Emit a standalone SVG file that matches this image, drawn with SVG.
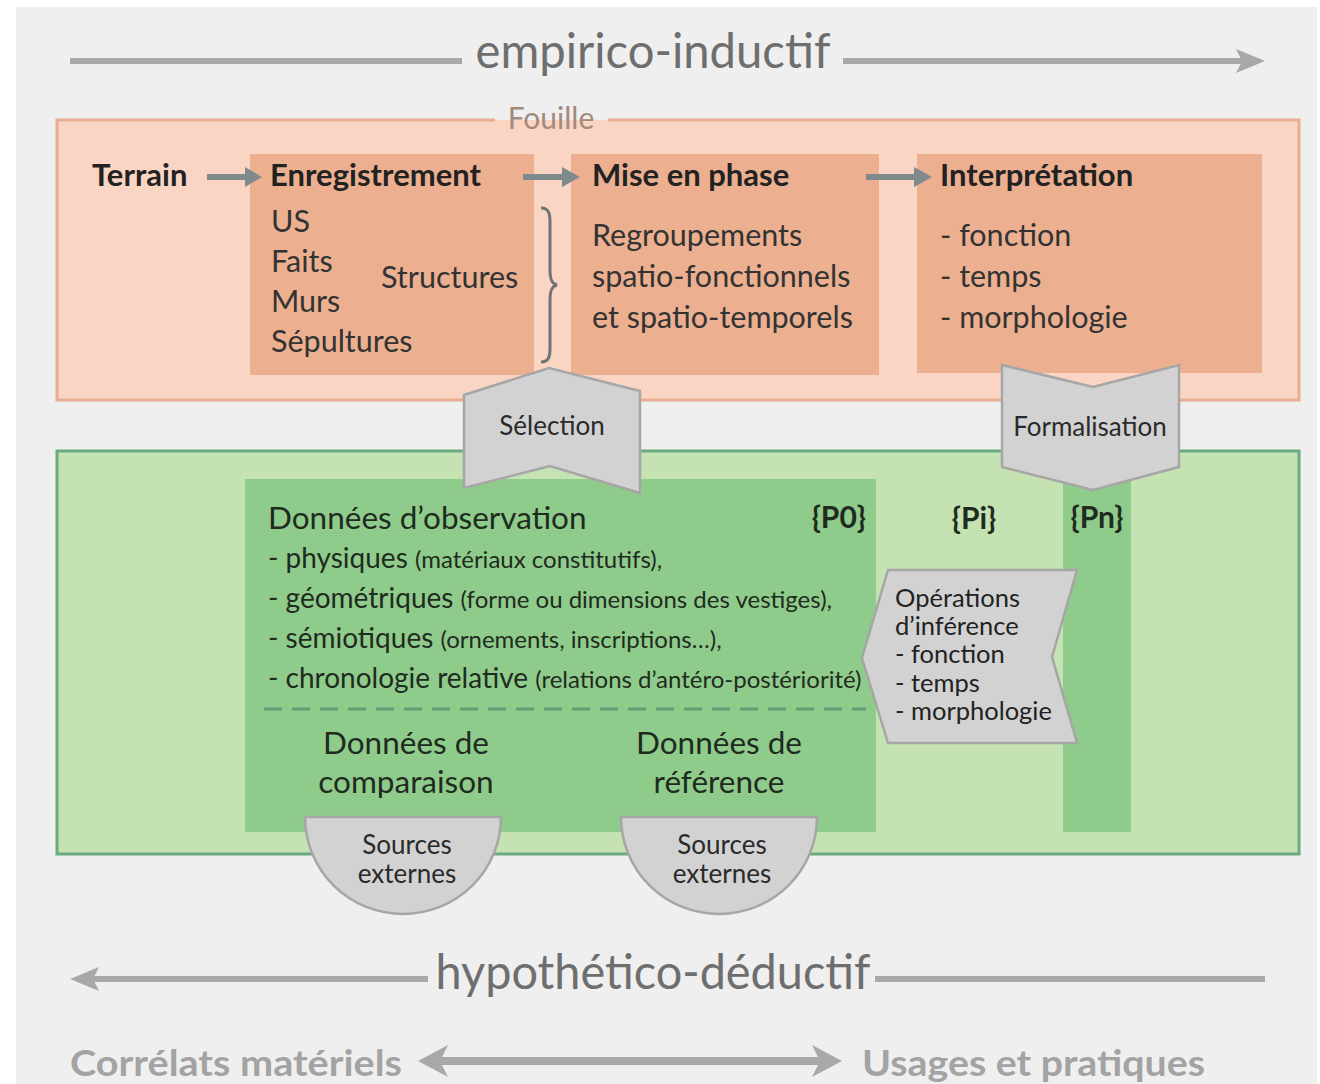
<svg xmlns="http://www.w3.org/2000/svg" width="1320" height="1084" viewBox="0 0 1320 1084">
  <style>
    text { font-family: Lato, "Open Sans", "Liberation Sans", sans-serif; }
    .axis { font-size: 48px; fill: #6e6e6e; }
    .axisline { stroke: #a8a8a8; stroke-width: 6; fill: none; }
    .head { font-size: 31px; font-weight: bold; fill: #222; }
    .body { font-size: 30.5px; fill: #333; }
    .gtext { font-size: 28px; fill: #1f2b1f; }
    .gsmall { font-size: 24px; }
    .gbig { font-size: 31.5px; fill: #1f2b1f; }
    .pset { font-size: 30px; font-weight: bold; fill: #1f2b1f; }
    .tag { fill: #d2d2d2; stroke: #a6a6a6; stroke-width: 2.5; }
    .tagtext { font-size: 26px; fill: #2a2a2a; text-anchor: middle; }
    .optext { font-size: 25.5px; fill: #222; }
    .flow { fill: #7f8a8c; }
    .pole { font-size: 36px; font-weight: bold; fill: #a3a3a3; }
  </style>

  <!-- page -->
  <rect x="16" y="7" width="1301" height="1077" fill="#efefef"/>

  <!-- empirico-inductif axis -->
  <g id="axis-top">
    <line class="axisline" x1="70" y1="61" x2="462" y2="61"/>
    <line class="axisline" x1="843" y1="61" x2="1242" y2="61"/>
    <path d="M1265,61 L1236,49 L1242,61 L1236,73 Z" fill="#a8a8a8"/>
    <text class="axis" x="653" y="68" text-anchor="middle" textLength="355" lengthAdjust="spacingAndGlyphs">empirico-inductif</text>
  </g>

  <!-- Fouille -->
  <g id="fouille">
    <rect x="57" y="120" width="1242" height="280" fill="#fbd5c3"/>
    <path d="M495,120 H57 V400 H1299 V120 H608" fill="none" stroke="#e8ad90" stroke-width="3"/>
    <text x="551" y="129" text-anchor="middle" font-size="30" fill="#a38a7c">Fouille</text>
  </g>

  <g id="terrain">
    <text class="head" x="92" y="186">Terrain</text>
  </g>

  <g id="enregistrement">
    <rect x="250" y="154" width="284" height="221" fill="#ecb090"/>
    <text class="head" x="270" y="186">Enregistrement</text>
    <text class="body" x="271" y="232">US</text>
    <text class="body" x="271" y="272">Faits</text>
    <text class="body" x="271" y="312">Murs</text>
    <text class="body" x="271" y="352">Sépultures</text>
    <text class="body" x="381" y="288">Structures</text>
  </g>

  <g id="mise-en-phase">
    <rect x="571" y="154" width="308" height="221" fill="#ecb090"/>
    <text class="head" x="592" y="186">Mise en phase</text>
    <text class="body" x="592" y="246">Regroupements</text>
    <text class="body" x="592" y="287">spatio-fonctionnels</text>
    <text class="body" x="592" y="328">et spatio-temporels</text>
  </g>

  <g id="interpretation">
    <rect x="917" y="154" width="345" height="219" fill="#ecb090"/>
    <text class="head" x="940" y="186">Interprétation</text>
    <text class="body" x="940" y="246">- fonction</text>
    <text class="body" x="940" y="287">- temps</text>
    <text class="body" x="940" y="328">- morphologie</text>
  </g>

  <!-- Observation frame -->
  <g id="observation">
    <rect x="57" y="451" width="1242" height="403" fill="#c5e2b3" stroke="#6aaa7f" stroke-width="3"/>
  </g>

  <g id="donnees">
    <rect x="245" y="479" width="631" height="353" fill="#8fcb8b"/>
    <text class="gbig" x="268" y="529">Données d’observation</text>
    <text class="gtext" x="268" y="568">- physiques <tspan class="gsmall">(matériaux constitutifs),</tspan></text>
    <text class="gtext" x="268" y="608">- géométriques <tspan class="gsmall">(forme ou dimensions des vestiges),</tspan></text>
    <text class="gtext" x="268" y="648">- sémiotiques <tspan class="gsmall">(ornements, inscriptions…),</tspan></text>
    <text class="gtext" x="268" y="688">- chronologie relative <tspan class="gsmall">(relations d’antéro-postériorité)</tspan></text>
    <line x1="264" y1="709" x2="866" y2="709" stroke="#5f9e76" stroke-width="3" stroke-dasharray="18 10"/>
    <text class="gbig" x="406" y="754" text-anchor="middle">Données de</text>
    <text class="gbig" x="406" y="793" text-anchor="middle">comparaison</text>
    <text class="gbig" x="719" y="754" text-anchor="middle">Données de</text>
    <text class="gbig" x="719" y="793" text-anchor="middle">référence</text>
    <text class="pset" x="866" y="528" text-anchor="end">{P0}</text>
  </g>

  <g id="pi">
    <text class="pset" x="974" y="529" text-anchor="middle">{Pi}</text>
  </g>

  <g id="pn">
    <rect x="1063" y="479" width="68" height="353" fill="#8fcb8b"/>
    <text class="pset" x="1097" y="528" text-anchor="middle">{Pn}</text>
  </g>

  <g id="sources-comparaison">
    <path d="M305,817 H501 A98,97 0 0 1 305,817 Z" class="tag"/>
    <text class="tagtext" x="407" y="854">Sources</text>
    <text class="tagtext" x="407" y="883">externes</text>
  </g>

  <g id="sources-reference">
    <path d="M621,817 H817 A98,97 0 0 1 621,817 Z" class="tag"/>
    <text class="tagtext" x="722" y="854">Sources</text>
    <text class="tagtext" x="722" y="883">externes</text>
  </g>

  <g id="selection">
    <polygon class="tag" points="464,395 549,368 640,391 640,493 550,466 464,488"/>
    <text class="tagtext" x="552" y="435" font-size="26.5">Sélection</text>
  </g>

  <g id="formalisation">
    <polygon class="tag" points="1002,365 1093,387 1179,365 1179,467 1093,490 1002,467"/>
    <text class="tagtext" x="1090" y="436">Formalisation</text>
  </g>

  <g id="inference">
    <polygon class="tag" points="888,570 1077,570 1052,657 1077,743 888,743 862,658"/>
    <text class="optext" x="895" y="607">Opérations</text>
    <text class="optext" x="895" y="635">d’inférence</text>
    <text class="optext" x="895" y="663">- fonction</text>
    <text class="optext" x="895" y="692">- temps</text>
    <text class="optext" x="895" y="720">- morphologie</text>
  </g>

  <!-- connectors -->
  <g id="connectors">
    <path class="flow" d="M207,174 H245 V167 L262,177 L245,187 V180 H207 Z"/>
    <path class="flow" d="M523,174 H562 V167 L580,177 L562,187 V180 H523 Z"/>
    <path class="flow" d="M866,174 H914 V167 L932,177 L914,187 V180 H866 Z"/>
    <!-- brace grouping the recorded units -->
    <path d="M541,208 C549,208 550,214 550,222 V270 C550,280 552,284 557,285 C552,286 550,290 550,300 V348 C550,356 549,362 541,362" fill="none" stroke="#6f7476" stroke-width="3"/>
  </g>

  <!-- hypothético-déductif axis -->
  <g id="axis-bottom">
    <line class="axisline" x1="92" y1="979" x2="428" y2="979"/>
    <line class="axisline" x1="875" y1="979" x2="1265" y2="979"/>
    <path d="M70,979 L99,967 L93,979 L99,991 Z" fill="#a8a8a8"/>
    <text class="axis" x="653" y="989" text-anchor="middle" textLength="435" lengthAdjust="spacingAndGlyphs">hypothético-déductif</text>
  </g>

  <!-- material correlates / uses -->
  <g id="poles">
    <text class="pole" x="70" y="1076" textLength="332" lengthAdjust="spacingAndGlyphs">Corrélats matériels</text>
    <path d="M418,1061 L448,1045 L442,1057 H818 L812,1045 L842,1061 L812,1077 L818,1065 H442 L448,1077 Z" fill="#a8a8a8"/>
    <text class="pole" x="862" y="1076" textLength="343" lengthAdjust="spacingAndGlyphs">Usages et pratiques</text>
  </g>
</svg>
